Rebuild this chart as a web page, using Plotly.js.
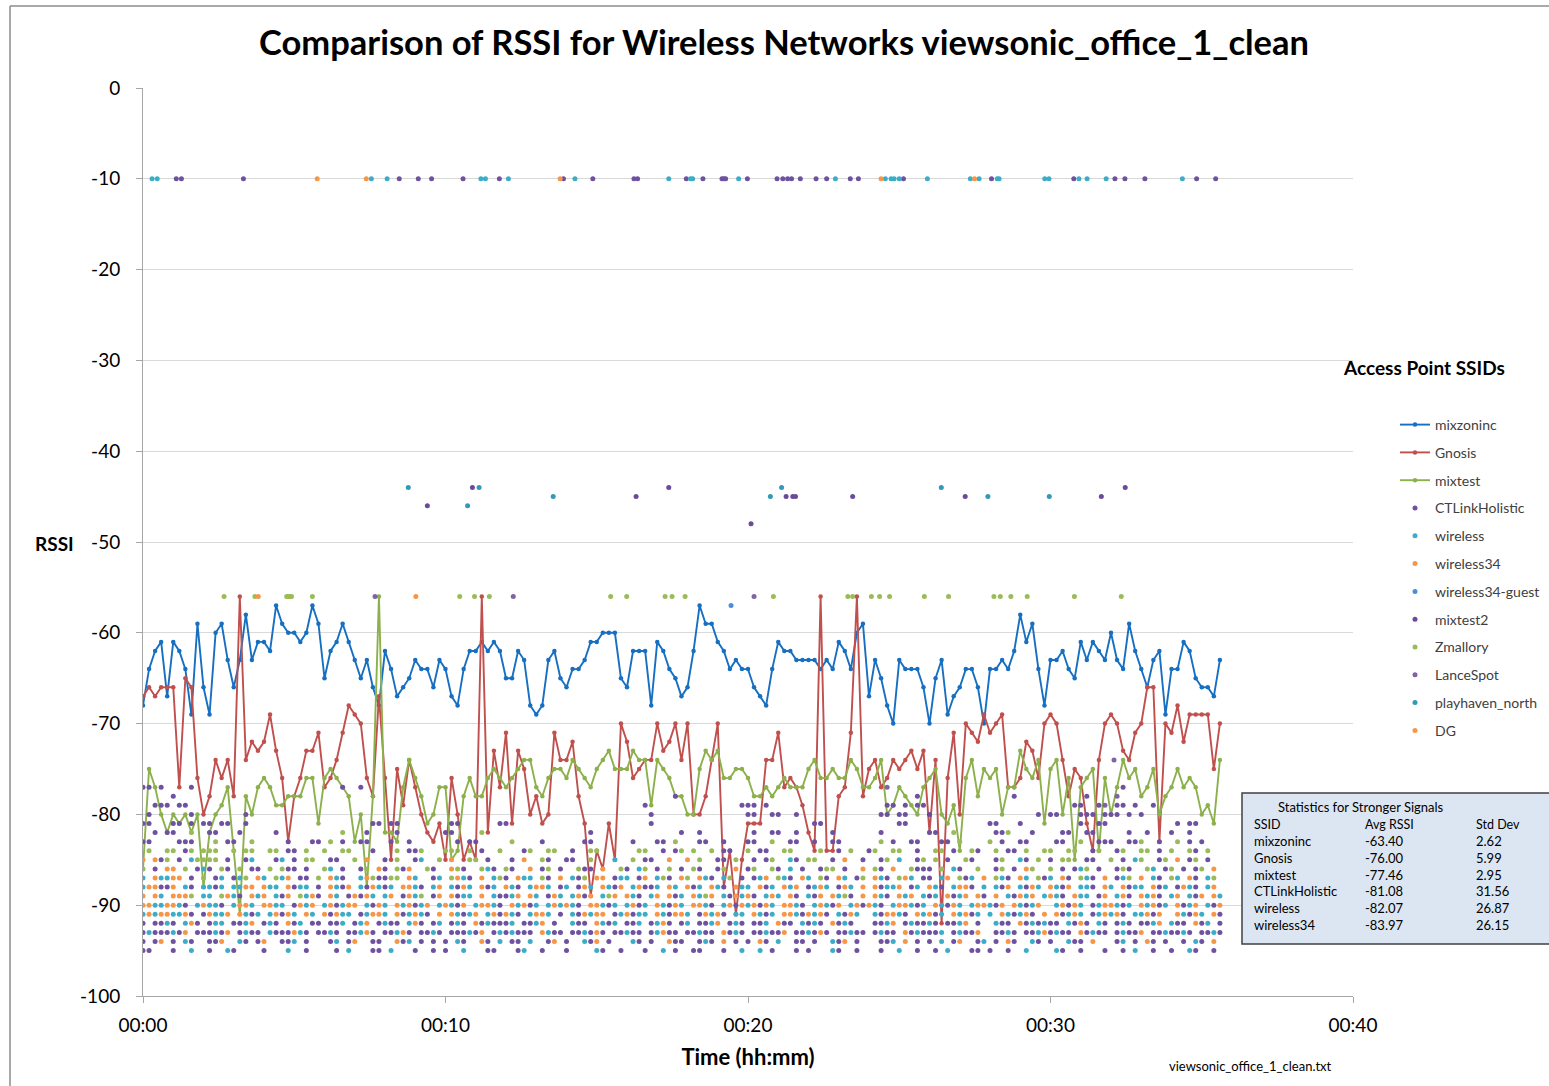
<!DOCTYPE html>
<html><head><meta charset="utf-8">
<script src="https://cdn.plot.ly/plotly-3.0.1.min.js"></script>
<style>html,body{margin:0;padding:0;background:#fff;}#chart{width:1549px;height:1086px;}</style>
</head><body><div id="chart"></div>
<script>
// ---- data ----
const timeStep = 0.2; // minutes between samples
const mixzoninc = [-68,-64,-62,-61,-67,-61,-62,-64,-69,-59,
 -66,-69,-60,-59,-63,-66,-63,-58,-63,-61,
 -61,-62,-57,-59,-60,-60,-61,-60,-57,-59,
 -65,-62,-61,-59,-61,-63,-65,-63,-66,-68,
 -62,-64,-67,-66,-65,-63,-64,-64,-66,-63,
 -64,-67,-68,-64,-62,-62,-61,-62,-61,-62,
 -65,-65,-62,-63,-68,-69,-68,-63,-62,-65,
 -66,-64,-64,-63,-61,-61,-60,-60,-60,-65,
 -66,-62,-62,-62,-68,-61,-62,-64,-65,-67,
 -66,-62,-57,-59,-59,-61,-62,-64,-63,-64,
 -64,-66,-67,-68,-64,-61,-62,-62,-63,-63,
 -63,-63,-64,-63,-64,-61,-62,-64,-60,-59,
 -67,-63,-65,-68,-70,-63,-64,-64,-64,-66,
 -70,-65,-63,-69,-67,-66,-64,-64,-66,-70,
 -64,-64,-63,-64,-62,-58,-61,-59,-64,-68,
 -63,-63,-62,-64,-65,-61,-63,-61,-62,-63,
 -60,-63,-64,-59,-62,-64,-66,-63,-62,-69,
 -64,-64,-61,-62,-65,-66,-66,-67,-63];
const gnosis = [-67,-66,-67,-66,-66,-66,-77,-65,-66,-76,
 -80,-78,-74,-76,-74,-78,-56,-74,-72,-73,
 -72,-69,-73,-76,-83,-78,-76,-73,-73,-71,
 -77,-76,-74,-71,-68,-69,-70,-76,-78,-67,
 -76,-85,-75,-79,-74,-77,-80,-82,-83,-81,
 -85,-76,-80,-85,-83,-85,-56,-82,-73,-77,
 -71,-81,-73,-75,-80,-78,-81,-80,-71,-74,
 -74,-72,-78,-81,-89,-84,-86,-81,-85,-70,
 -72,-76,-75,-74,-74,-70,-73,-72,-70,-74,
 -70,-80,-80,-78,-74,-70,-88,-84,-91,-85,
 -81,-81,-81,-74,-74,-71,-77,-76,-77,-79,
 -82,-84,-56,-84,-84,-78,-77,-71,-56,-78,
 -75,-74,-77,-76,-74,-75,-74,-73,-75,-73,
 -82,-74,-92,-76,-71,-80,-70,-71,-72,-69,
 -71,-70,-69,-77,-77,-76,-72,-73,-76,-70,
 -69,-70,-74,-78,-75,-76,-81,-84,-74,-70,
 -69,-70,-73,-74,-71,-70,-66,-66,-83,-70,
 -71,-68,-72,-69,-69,-69,-69,-75,-70];
const mixtest = [-86,-75,-77,-80,-82,-80,-81,-80,-82,-80,
 -88,-82,-80,-79,-77,-84,-91,-78,-80,-77,
 -76,-77,-79,-79,-78,-78,-78,-76,-76,-81,
 -76,-75,-76,-77,-78,-83,-80,-88,-78,-56,
 -82,-82,-83,-77,-74,-76,-78,-81,-80,-77,
 -77,-85,-84,-78,-76,-78,-78,-76,-75,-76,
 -77,-76,-75,-74,-74,-77,-78,-76,-75,-75,
 -76,-74,-75,-76,-77,-75,-74,-73,-75,-75,
 -75,-73,-74,-74,-79,-74,-75,-76,-78,-78,
 -80,-80,-75,-73,-74,-73,-76,-76,-75,-75,
 -76,-78,-78,-77,-78,-77,-76,-77,-77,-77,
 -75,-74,-76,-76,-75,-76,-76,-74,-75,-77,
 -77,-76,-74,-80,-79,-77,-78,-79,-80,-77,
 -76,-75,-80,-81,-79,-84,-76,-74,-78,-75,
 -76,-75,-80,-77,-77,-73,-75,-76,-74,-81,
 -75,-74,-80,-76,-85,-77,-76,-75,-84,-76,
 -80,-77,-74,-76,-75,-78,-77,-75,-80,-78,
 -77,-75,-77,-76,-77,-80,-79,-81,-74];

// sparse readings: [minutes, RSSI]
const ctlinkPts = [[1.10,-10],[1.27,-10],[3.32,-10],[8.47,-10],[9.10,-10],[9.54,-10],[10.58,-10],[11.78,-10],[13.90,-10],[14.87,-10],[16.23,-10],[16.35,-10],[17.96,-10],[18.51,-10],[19.14,-10],[19.20,-10],[19.26,-10],[19.98,-10],[20.96,-10],[21.15,-10],[21.31,-10],[21.44,-10],[21.73,-10],[22.25,-10],[22.60,-10],[23.38,-10],[23.65,-10],[25.14,-10],[28.05,-10],[30.77,-10],[32.13,-10],[32.46,-10],[33.12,-10],[34.83,-10],[35.46,-10]];
const wirelessPts = [[0.30,-10],[0.47,-10],[7.55,-10],[8.07,-10],[11.17,-10],[11.32,-10],[12.08,-10],[14.28,-10],[17.38,-10],[18.10,-10],[18.17,-10],[19.69,-10],[22.89,-10],[24.54,-10],[24.73,-10],[24.83,-10],[25.00,-10],[25.93,-10],[27.35,-10],[27.64,-10],[28.24,-10],[28.30,-10],[29.81,-10],[29.95,-10],[30.94,-10],[31.21,-10],[31.84,-10],[34.36,-10]];
const wireless34Pts = [[5.76,-10],[7.38,-10],[13.79,-10],[24.40,-10],[27.49,-10]];
const guestPts = [[19.44,-57]];
const mixtest2Pts = [[9.40,-46],[10.89,-44],[16.30,-45],[17.38,-44],[20.10,-48],[21.26,-45],[21.48,-45],[21.57,-45],[23.46,-45],[27.18,-45],[31.68,-45],[32.47,-44]];
const zmalloryPts = [[2.68,-56],[3.70,-56],[4.75,-56],[4.80,-56],[4.86,-56],[4.91,-56],[5.60,-56],[10.47,-56],[10.96,-56],[11.45,-56],[15.46,-56],[15.99,-56],[17.26,-56],[17.49,-56],[17.92,-56],[20.84,-56],[23.30,-56],[23.46,-56],[24.08,-56],[24.35,-56],[24.68,-56],[25.83,-56],[26.63,-56],[28.13,-56],[28.34,-56],[28.69,-56],[29.23,-56],[30.79,-56],[32.34,-56]];
const lancePts = [[7.67,-56],[12.24,-56],[20.20,-56],[32.10,-74]];
const playhavenPts = [[8.77,-44],[10.73,-46],[11.11,-44],[13.56,-45],[20.74,-45],[21.11,-44],[26.39,-44],[27.93,-45],[29.96,-45]];
const dgPts = [[3.81,-56],[9.02,-56]];

// dense band: one row per RSSI level, one character per 0.2-min sample (groups of 10 = 2 minutes)
const bandLevels = [-77,-78,-79,-80,-81,-82,-83,-84,-85,-86,-87,-88,-89,-90,-91,-92,-93,-94,-95];
const bandRows = [
 "pp.p....p. .......... .......... ...p..p... .......... .......... .......... .......... .......... .......... .......... .......... ...l...... .......... .......... .......... ..p....... .........",
 ".....p.... .......... .......... .......... .......... .......... .......... .......... ........p. .......... .......... .......... ........p. .......... ....p..... ......p... .l........ .........",
 "..ppp.pp.. .......... .......... .......... .......... .......... .......... .......... ...p...... .........p pp.p...... .......... ...pp.p.pp .......... .......... ....pp..pl .pp.p..p.. .........",
 ".p......p. .......p.. .......... .......... .......... .......... .......... .......... ....p..... .......... pp..pp..p. .......... ..pp.pp... m......... ........p. pp...ppp.p pp.p.p.... .........",
 "pp...pp.p. pp.pp..p.. .......... ........pp .pp....... .pp......p p......... .......... ....p..... .......... .......... .pp....... .....pp... .......... pp...p.... .....p..pp .......... .p.pp....",
 "..p.pp..g. .pp...p... ..p....... ...g...p.. ..p....... pp....g... .......... ....p..... .........p ..p....... .p..pp..p. ....p..... ..p....... pp..g..... .ppg...p.. ..pp..pp.. ...p..p... p..p.....",
 "pp....ppp. ..g.pp..g. ....p...pp .g.p..pp.. .p..p..... ..p.pp.... .g....p... ...pp..... .p...pp.g. ..pp..p... pp..g..pp. .p..pp.... ..g.p..pp. ..pp.g.... g.p..pp... .pp..g..pp p..ppg..p. .g.p.p...",
 ".g..gg.pg. ggg..g.gg. .gg.pp.g.. g..gg...p. ..g.ppg... gg..g.p..g ...pg..gg. .p..gg.... ..gg..p.pg .g..g.pp.. g.pp..gg.. ..g..p.g.. pg..gg..p. .gg.p..gp. .g.pp.g..g g..gg..pg. .pg..gg.p. g..gp.g..",
 "o.opg.p.cg ggg.p..pc. ..pc.p.gg. .pp..g.o.. p.g..pc..g .o..gg.p.. .p.o..gp.. pp..g...c. .g.pp..o.. o.g..pp.g. .p.pg..cp. gg..p.o..p ..pg.c..pg .g.p..gp.. .pg..cp.g. p.gg..pp.. g.p.cg..pg .o.pg.p..",
 "g.p.oo.g.p cp.gp.g.pp .g.gpp.p.. gc.p..pg.o p.gpo..gp. .ogp..gcp. gp..o.pg.p ..gpp.o..g p.cg.p.g.p .gp..pg.o. pg..gp.c.p ..pgg.p..o .gp.o..gpp p.g.cp..g. .pg.p.og.. g.p.pcg.p. .pgp..gc.p g.p.pg.o.",
 "c.occoo.p. g.pc.pcg.o c.gco.pp.g .ocp..cogp pgg.oc..pc .gocp.o.cg p.occ.gp.o .cpg.oo.pc c.po.cgp.o g.ocp.cg.p .pco.gcp.o c.gp.oc.pg .ocp.goc.p p.co.gpc.o .gcp.oc.gp c.op.gcp.o .pcg.o.cp. gc.op.cg.",
 "cooppo.cp. ccpc.ccoo. occ.opcc.p .ocpo.cpoc pc.oocp.co .cpoc.opc. ocp.cooc.p c.poc.ocpo .coppc.oc. opc.ocp.oc c.opc.oco. pcoc.poc.o .opcco.pc. ocp.coop.c .cpo.cpoc. ocpo.ccp.o c.opcc.opc .pocp.co.c pco.pcoc.",
 "o.oc.ooog. cc.gocp.oc o.cpo.gcop .oc.popoc. co.pocg.po .opcc.o.cp pco.oc.poc .copo.cgo. ocp.co.opc .ocgo.cpoc op.coc.op. cpo.ocgp.o .ocp.oco.c pc.opco.op .o.cpoco.c ocp.occ.po .cop.ocop. co.cpo.oc. ocp.oco.p",
 "ooccoocp.c occp.cooc. oocc.poco. copcoo.cpo c.ocopco.c ocpo.coocp .ocopc.coc ocp.oocpc. copc.ocpoc .oocp.copo copoc.oocp .cocpo.cop ocp.coocpc .ocpoc.coo cpo.ocpco. .copoc.pco ocpc.ocopc .opco.cpoc occp.ocpo",
 "cocooccop. pocco.ocpc .copoc.oc. opocc.pcoo c.opcocp.o .ocpco.cop ocp.cooc.p .cpocoo.pc opcc.ocpoo c.pocop.cc .ocpc.oocp ocop.cpoc. .cpoocp.oc opc.ocopc. c.ocpcop.o .opcoc.pco cop.ccopo. .ocpoc.opc opco.ccpo",
 "p.ppcp.cop .pcc.ppco. pcp.opc.pp .ppc.pco.p cpp.cop.pc .pcp.opcpp pc.ppco.p. .cpp.ocpc. ppc.pcop.p c.ppco.pcp .ppc.opp.c pcp.opcp.. .ppco.pcpp cp.ppco.p. .cpp.opcpc pp.cpop.cp .pcp.ppco. cpp.opc.pp p.cpp.co.",
 "pcpppcpo.p ppcpo.pcpp .cpppocp.p pcp.ppcop. ppcop.ppcp .pppcpo.pc pcppp.ocpp .ppcpop.pp cpp.pcopp. ppcpp.opcp .ppcppo.pp cpop.ppcpp .pcpp.opcp ppc.pcppo. .ppcp.ppco pcpp.opcpp .pcppo.ppc ppcp.ppcp.",
 "p.po.p.cp. .ppo..cp.p o..ppc.p.. .pc.po..pp ..opc.p.p. p.cp..op.c .pp.c..po. p..cpo.p.. .cp.p..opp ..pcp.o.p. p.op.c..pp .p..cpo.p. ..ppc.o.p. p.c.po..pc .p.op..cp. p..cpp.o.. .pc.p.op.p ..p.cp.o.",
 "pp...p..c. .p..cp.... p...c..p.. ..p.c...pp .c...p..p. p..c...pp. ..pc..p... p....cp..p ...p..c.p. .pp...p..c ..c.p...p. p...cp..p. ..p..c..p. .p.c...pp. p..p..c... .cp..p...p ..p.c..p.. p..cp..p."
];

const xTickVals = [0, 10, 20, 30, 40];
const xTickText = ['00:00', '00:10', '00:20', '00:30', '00:40'];
const yTickVals = [0, -10, -20, -30, -40, -50, -60, -70, -80, -90, -100];
const yTickText = ['0', '-10', '-20', '-30', '-40', '-50', '-60', '-70', '-80', '-90', '-100'];

const statsTitle = 'Statistics for Stronger Signals';
const statsHeader = ['SSID', 'Avg RSSI', 'Std Dev'];
const statsSSID = ['mixzoninc', 'Gnosis', 'mixtest', 'CTLinkHolistic', 'wireless', 'wireless34'];
const statsAvg = ['-63.40', '-76.00', '-77.46', '-81.08', '-82.07', '-83.97'];
const statsStd = ['2.62', '5.99', '2.95', '31.56', '26.87', '26.15'];

// ---- build ----
const FONT = 'Lato, "Open Sans", sans-serif';
const times = mixzoninc.map((_, i) => +(i * timeStep).toFixed(2));
const W = 1549, H = 1086, L = 143, R = 1353, T = 88, B = 996;
const px = x => (x - L) / (R - L);
const py = y => (B - y) / (B - T);

function bandPoints(letter) {
  const xs = [], ys = [];
  bandRows.forEach((row, r) => {
    row.split(' ').forEach((grp, g) => {
      for (let i = 0; i < grp.length && i < 10; i++) {
        if (grp[i] === letter) {
          const k = g * 10 + i;
          if (k < times.length) { xs.push(times[k]); ys.push(bandLevels[r]); }
        }
      }
    });
  });
  return { xs, ys };
}

const traces = [];
let grp = 0;
function lineTrace(name, ys, color) {
  traces.push({ type: 'scatter', mode: 'lines+markers', name, x: times, y: ys,
    line: { color, width: 1.9 }, marker: { color, size: 4.5 }, legendgroup: 'g' + (grp++) });
}
lineTrace('mixzoninc', mixzoninc, '#176FC1');
lineTrace('Gnosis', gnosis, '#C0504D');
lineTrace('mixtest', mixtest, '#8CB04B');

const dotSeries = [
  ['CTLinkHolistic', 'p', ctlinkPts, '#6E51A0'],
  ['wireless', 'c', wirelessPts, '#3CADC8'],
  ['wireless34', 'o', wireless34Pts, '#F79646'],
  ['wireless34-guest', 'b', guestPts, '#4D8FD6'],
  ['mixtest2', 'm', mixtest2Pts, '#6B4A9A'],
  ['Zmallory', 'g', zmalloryPts, '#9BBB59'],
  ['LanceSpot', 'l', lancePts, '#8064A2'],
  ['playhaven_north', 'h', playhavenPts, '#3399B8'],
  ['DG', 'd', dgPts, '#F79646']
];
dotSeries.forEach(([name, letter, pts, color]) => {
  const band = bandPoints(letter);
  const x = pts.map(p => p[0]).concat(band.xs);
  const y = pts.map(p => p[1]).concat(band.ys);
  traces.push({ type: 'scatter', mode: 'markers', name, x, y,
    marker: { color, size: 5 }, legendgroup: 'g' + (grp++) });
});

const ann = [];
function text(t, x, y, size, opts = {}) {
  ann.push(Object.assign({ text: t, x: px(x), y: py(y), xref: 'paper', yref: 'paper',
    showarrow: false, xanchor: 'center', yanchor: 'middle', borderpad: 0,
    font: { family: FONT, size, color: opts.color || '#000' } }, opts.extra || {}));
}
text('<b>RSSI</b>', 54, 543, 19);
text('<b>Access Point SSIDs</b>', 1424, 367, 19);
text('viewsonic_office_1_clean.txt', 1250, 1066, 13);
text(statsTitle, 1277, 807, 13, { extra: { xanchor: 'left' } });
const colX = [1253, 1364, 1475];
statsHeader.forEach((h, i) => text(h, colX[i], 824, 12.5, { extra: { xanchor: 'left' } }));
statsSSID.forEach((s, r) => {
  const yy = 841 + r * 16.8;
  text(s, colX[0], yy, 13, { extra: { xanchor: 'left' } });
  text(statsAvg[r], colX[1], yy, 13, { extra: { xanchor: 'left' } });
  text(statsStd[r], colX[2], yy, 13, { extra: { xanchor: 'left' } });
});

const shapes = [
  { type: 'rect', xref: 'paper', yref: 'paper', x0: px(1242), x1: px(1565), y0: py(944), y1: py(793),
    fillcolor: '#DCE6F2', line: { color: '#404040', width: 1.5 }, layer: 'above' },
  { type: 'line', xref: 'paper', yref: 'paper', x0: px(10), x1: px(10), y0: py(6), y1: py(1090),
    line: { color: '#8C8C8C', width: 1.5 } },
  { type: 'line', xref: 'paper', yref: 'paper', x0: px(10), x1: px(1560), y0: py(6), y1: py(6),
    line: { color: '#8C8C8C', width: 1.5 } }
];

const layout = {
  width: W, height: H,
  margin: { l: L, r: W - R, t: T, b: H - B, pad: 0, autoexpand: false },
  paper_bgcolor: '#fff', plot_bgcolor: '#fff',
  title: { text: '<b>Comparison of RSSI for Wireless Networks viewsonic_office_1_clean</b>',
    x: 784 / W, xanchor: 'center', y: 1 - 43 / H, yanchor: 'middle', xref: 'container', yref: 'container',
    font: { family: FONT, size: 34.5, color: '#000' } },
  xaxis: { range: [0, 40], tickvals: xTickVals, ticktext: xTickText, showgrid: false, zeroline: false,
    showline: true, linecolor: '#A6A6A6', linewidth: 1, ticks: 'outside', ticklen: 6, tickcolor: '#A6A6A6',
    ticklabelstandoff: 6, tickfont: { family: FONT, size: 19, color: '#000' },
    title: { text: '<b>Time (hh:mm)</b>', font: { family: FONT, size: 22, color: '#000' }, standoff: 14 } },
  yaxis: { range: [-100, 0], tickvals: yTickVals, ticktext: yTickText, showgrid: true, gridcolor: '#D9D9D9', gridwidth: 1,
    zeroline: false, showline: true, linecolor: '#A6A6A6', linewidth: 1, ticks: 'outside', ticklen: 6,
    tickcolor: '#A6A6A6', ticklabelstandoff: 12, tickfont: { family: FONT, size: 19, color: '#000' },
    title: { text: '' } },
  showlegend: true,
  legend: { x: px(1395), y: py(409), xanchor: 'left', yanchor: 'top', xref: 'paper', yref: 'paper',
    font: { family: FONT, size: 14, color: '#404040' }, tracegroupgap: 6.6, bgcolor: 'rgba(0,0,0,0)',
    itemclick: false },
  annotations: ann,
  shapes: shapes,
  hovermode: false
};

Plotly.newPlot('chart', traces, layout, { staticPlot: true, displayModeBar: false });
</script></body></html>
